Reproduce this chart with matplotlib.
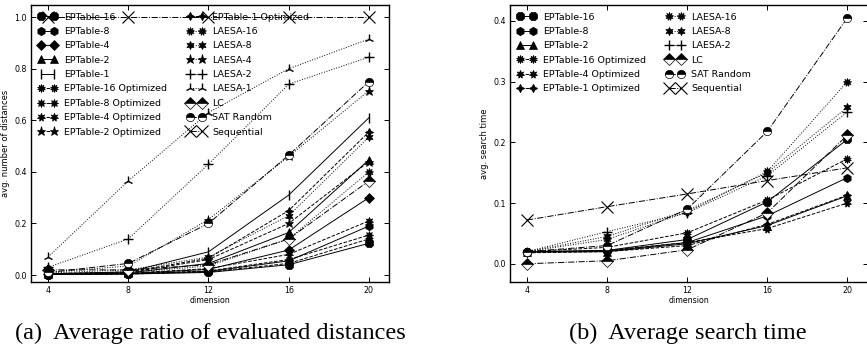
import matplotlib
matplotlib.use("Agg")
import matplotlib.pyplot as plt

dims = [4, 8, 12, 16, 20]

# (a) average ratio of evaluated distances
ratio_labels = ["EPTable-16", "EPTable-8", "EPTable-4", "EPTable-2", "EPTable-1",
                "EPTable-16 Optimized", "EPTable-8 Optimized", "EPTable-4 Optimized",
                "EPTable-2 Optimized", "EPTable-1 Optimized",
                "LAESA-16", "LAESA-8", "LAESA-4", "LAESA-2", "LAESA-1",
                "LC", "SAT Random", "Sequential"]
ratio_values = [
    [0.002, 0.004, 0.010, 0.040, 0.123],
    [0.002, 0.005, 0.014, 0.055, 0.190],
    [0.003, 0.006, 0.022, 0.097, 0.300],
    [0.004, 0.008, 0.045, 0.165, 0.447],
    [0.005, 0.012, 0.090, 0.310, 0.610],
    [0.002, 0.004, 0.012, 0.045, 0.140],
    [0.003, 0.005, 0.016, 0.060, 0.155],
    [0.003, 0.007, 0.025, 0.080, 0.210],
    [0.004, 0.009, 0.060, 0.200, 0.440],
    [0.005, 0.012, 0.065, 0.250, 0.555],
    [0.005, 0.010, 0.035, 0.140, 0.400],
    [0.008, 0.020, 0.070, 0.230, 0.535],
    [0.010, 0.035, 0.215, 0.460, 0.715],
    [0.030, 0.140, 0.430, 0.740, 0.845],
    [0.070, 0.365, 0.630, 0.800, 0.915],
    [0.020, 0.020, 0.040, 0.140, 0.365],
    [0.010, 0.045, 0.200, 0.465, 0.750],
    [1.0, 1.0, 1.0, 1.0, 1.0],
]

# (b) average search time
time_labels = ["EPTable-16", "EPTable-8", "EPTable-2",
               "EPTable-16 Optimized", "EPTable-4 Optimized", "EPTable-1 Optimized",
               "LAESA-16", "LAESA-8", "LAESA-2", "LC", "SAT Random", "Sequential"]
time_values = [
    [0.020, 0.022, 0.040, 0.102, 0.205],
    [0.020, 0.021, 0.035, 0.079, 0.142],
    [0.019, 0.020, 0.033, 0.063, 0.112],
    [0.020, 0.027, 0.051, 0.105, 0.173],
    [0.019, 0.022, 0.035, 0.058, 0.100],
    [0.018, 0.020, 0.030, 0.065, 0.113],
    [0.020, 0.040, 0.085, 0.152, 0.300],
    [0.020, 0.045, 0.088, 0.150, 0.258],
    [0.020, 0.053, 0.084, 0.145, 0.250],
    [0.000, 0.005, 0.023, 0.084, 0.212],
    [0.020, 0.030, 0.090, 0.218, 0.405],
    [0.072, 0.094, 0.115, 0.137, 0.158],
]

# marker / line style per method name
styles = {
    "EPTable-16": dict(ls="-", marker="8"),
    "EPTable-8": dict(ls="-", marker="h"),
    "EPTable-4": dict(ls="-", marker="D", ms=5),
    "EPTable-2": dict(ls="-", marker="^"),
    "EPTable-1": dict(ls="-", marker="|", ms=7, mew=1.0),
    "EPTable-16 Optimized": dict(ls="--", marker=(10, 1, 0)),
    "EPTable-8 Optimized": dict(ls="--", marker=(8, 1, 0)),
    "EPTable-4 Optimized": dict(ls="--", marker=(7, 1, 0)),
    "EPTable-2 Optimized": dict(ls="--", marker="*", ms=6.5),
    "EPTable-1 Optimized": dict(ls="--", marker=(4, 1, 0)),
    "LAESA-16": dict(ls=":", marker=(9, 1, 0)),
    "LAESA-8": dict(ls=":", marker=(6, 1, 0)),
    "LAESA-4": dict(ls=":", marker="*", ms=6.5),
    "LAESA-2": dict(ls=":", marker="+", ms=6.5, mew=1.0),
    "LAESA-1": dict(ls=":", marker="2", ms=6.5, mew=1.0),
    "LC": dict(ls="-.", marker="D", ms=6, fillstyle="top", markerfacecoloralt="white"),
    "SAT Random": dict(ls="-.", marker="o", fillstyle="top", markerfacecoloralt="white"),
    "Sequential": dict(ls="-.", marker="x", ms=9, mew=0.8),
}


def draw(ax, labels, values, ylabel, ylim, yticks):
    for name, vals in zip(labels, values):
        st = dict(color="black", lw=0.7, ms=6, mec="black", mfc="black", mew=0.5)
        st.update(styles[name])
        ax.plot(dims, vals, label=name, **st)
    ax.set_xlim(3.15, 21)
    ax.set_ylim(*ylim)
    ax.set_xticks(dims)
    ax.set_yticks(yticks)
    ax.set_yticklabels(["%.1f" % t for t in yticks])
    ax.tick_params(direction="in", top=True, right=True, labelsize=5.7, length=3.5, width=0.7, pad=3)
    for sp in ax.spines.values():
        sp.set_linewidth(1.0)
    ax.set_xlabel("dimension", fontsize=5.7, labelpad=0.5)
    ax.set_ylabel(ylabel, fontsize=6, labelpad=3)
    ax.legend(loc="upper left", ncol=2, frameon=False, fontsize=6.8, numpoints=2,
              handlelength=1.9, handletextpad=0.8, columnspacing=2.1,
              labelspacing=0.57, borderaxespad=0.6, borderpad=0.2)


fig = plt.figure(figsize=(8.67, 3.55), dpi=100)
ax1 = fig.add_axes([31 / 867, 73 / 355, 358 / 867, 277 / 355])
ax2 = fig.add_axes([510 / 867, 73 / 355, 357.5 / 867, 277 / 355])

draw(ax1, ratio_labels, ratio_values, "avg. number of distances",
     (-0.027, 1.047), [0.0, 0.2, 0.4, 0.6, 0.8, 1.0])
draw(ax2, time_labels, time_values, "avg. search time",
     (-0.03, 0.426), [0.0, 0.1, 0.2, 0.3, 0.4])

fig.text(210 / 867, 22 / 355, "(a)  Average ratio of evaluated distances",
         family="Liberation Serif", fontsize=17.5, ha="center", va="center")
fig.text(688 / 867, 22 / 355, "(b)  Average search time",
         family="Liberation Serif", fontsize=17.5, ha="center", va="center")

fig.savefig("out.png", dpi=100)
